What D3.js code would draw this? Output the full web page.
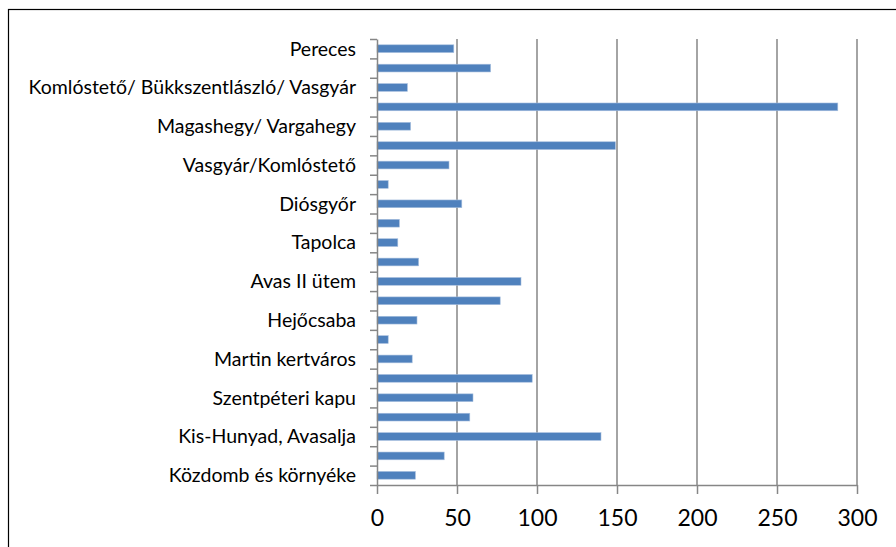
<!DOCTYPE html>
<html><head><meta charset="utf-8">
<script src="https://cdn.jsdelivr.net/npm/d3@7/dist/d3.min.js"></script>
<style>body{margin:0;background:#fff}svg{display:block}</style>
</head><body>
<svg id="c" width="896" height="547"></svg>
<script>
const categories = ["Pereces","","Komlóstető/ Bükkszentlászló/ Vasgyár","","Magashegy/ Vargahegy","","Vasgyár/Komlóstető","","Diósgyőr","","Tapolca","","Avas II ütem","","Hejőcsaba","","Martin kertváros","","Szentpéteri kapu","","Kis-Hunyad, Avasalja","","Közdomb és környéke"];
const values = [48,71,19,288,21,149,45,7,53,14,13,26,90,77,25,7,22,97,60,58,140,42,24];
const xTicks = [0,50,100,150,200,250,300];

const svg = d3.select("#c");
svg.append("rect").attr("x",8.5).attr("y",9.5).attr("width",1000).attr("height",1000)
  .attr("fill","none").attr("stroke","#000").attr("stroke-width",1.2);

const L=377, R=857, T=39, B=485;
const x = d3.scaleLinear().domain([0,300]).range([L,R]);
const y = d3.scaleLinear().domain([0,categories.length]).range([T,B]);
const step = y(1)-y(0);
const gray = "#868686";
const font = "Lato, 'Open Sans', sans-serif";

// gridlines
svg.append("g").selectAll("line").data(xTicks.slice(1)).join("line")
  .attr("x1",d=>x(d)).attr("x2",d=>x(d)).attr("y1",T).attr("y2",B)
  .attr("stroke",gray).attr("stroke-width",1.5);

// bars
svg.append("g").selectAll("rect").data(values).join("rect")
  .attr("x",x(0)).attr("y",(d,i)=>y(i+0.5)-step*0.2)
  .attr("width",d=>x(d)-x(0)).attr("height",step*0.4)
  .attr("fill","#4F81BD").attr("stroke","#A7BFDE").attr("stroke-width",0.6);

// x axis
const gx = svg.append("g").attr("transform",`translate(0,${B})`)
  .call(d3.axisBottom(x).tickValues(xTicks).tickSize(9).tickPadding(16).tickSizeOuter(0));
gx.select(".domain").attr("stroke",gray).attr("stroke-width",1.5);
gx.selectAll(".tick line").attr("stroke",gray).attr("stroke-width",1.5);
gx.selectAll(".tick text").attr("font-family",font).attr("font-size",23).attr("fill","#000");

// y axis
const gy = svg.append("g").attr("transform",`translate(${L},0)`)
  .call(d3.axisLeft(y).tickValues(d3.range(0,categories.length+1)).tickSize(7).tickFormat("").tickSizeOuter(0));
gy.select(".domain").attr("stroke",gray).attr("stroke-width",1.5);
gy.selectAll(".tick line").attr("stroke",gray).attr("stroke-width",1.5);

// category labels
svg.append("g").selectAll("text").data(categories).join("text")
  .attr("x",356).attr("y",(d,i)=>y(i+0.5)).attr("dy","0.35em")
  .attr("text-anchor","end").attr("font-family",font).attr("font-size",19.5).attr("fill","#000")
  .text(d=>d);
</script>
</body></html>
